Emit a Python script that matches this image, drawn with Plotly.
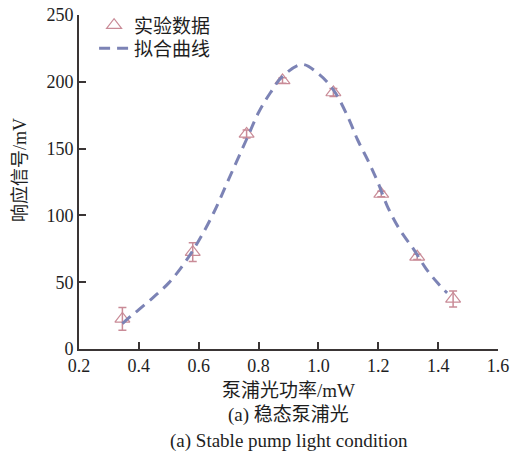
import plotly.graph_objects as go

# Experimental data
power_mw = [0.345, 0.58, 0.76, 0.88, 1.05, 1.21, 1.33, 1.45]
signal_mv = [22.5, 72.5, 161, 201, 192, 116, 69, 37.5]
signal_err = [8.5, 7, 3, 2, 3, 2, 2, 6]

# Fitted curve
fit_x = [0.345, 0.37, 0.40, 0.45, 0.50, 0.55, 0.60, 0.65, 0.70, 0.76, 0.80, 0.84,
         0.88, 0.945, 1.00, 1.05, 1.10, 1.13, 1.17, 1.20, 1.23, 1.27, 1.32,
         1.36, 1.40, 1.43]
fit_y = [19, 24, 29.5, 39, 49.5, 63.5, 81, 102, 127, 157, 177, 192,
         204, 213, 206, 194, 173, 157, 139, 124, 107, 90, 74,
         60, 49, 42]

x_ticks = [0.2, 0.4, 0.6, 0.8, 1.0, 1.2, 1.4, 1.6]
y_ticks = [0, 50, 100, 150, 200, 250]

FONT = "'Liberation Serif', 'Times New Roman', 'Noto Sans CJK SC', serif"
AXIS_COLOR = "#3a3535"
MARK_COLOR = "#c98b97"
LINE_COLOR = "#7c83b5"
TEXT_COLOR = "#1e1e1e"

fig = go.Figure()
fig.add_trace(go.Scatter(
    x=power_mw, y=signal_mv, mode="markers", name="实验数据", legend="legend",
    marker=dict(symbol="triangle-up-open", size=13, color=MARK_COLOR,
                line=dict(width=1.2, color=MARK_COLOR)),
    error_y=dict(type="data", array=signal_err, visible=True,
                 color=MARK_COLOR, thickness=1.5, width=4),
))
fig.add_trace(go.Scatter(
    x=fit_x, y=fit_y, mode="lines", name="拟合曲线", legend="legend2",
    line=dict(color=LINE_COLOR, width=3, dash="11px,7px", shape="spline", smoothing=1.0),
))

axis_common = dict(
    showline=True, linecolor=AXIS_COLOR, linewidth=1.6,
    ticks="inside", ticklen=7, tickwidth=1.6, tickcolor=AXIS_COLOR,
    showgrid=False, zeroline=False, mirror=False, automargin=False,
    tickfont=dict(family=FONT, size=18, color=TEXT_COLOR),
)

legend_common = dict(
    xanchor="left", yanchor="top",
    font=dict(family=FONT, size=19, color=TEXT_COLOR),
    bgcolor="rgba(0,0,0,0)", itemwidth=30,
)

fig.update_layout(
    width=510, height=460,
    margin=dict(l=79, r=12, t=15, b=111, autoexpand=False),
    paper_bgcolor="white", plot_bgcolor="white",
    showlegend=True,
    legend=dict(x=0.036, y=1.026, **legend_common),
    legend2=dict(x=0.036, y=0.957, **legend_common),
    xaxis=dict(range=[0.2, 1.6], tickvals=x_ticks,
               ticktext=[f"{v:.1f}" for v in x_ticks], **axis_common),
    yaxis=dict(range=[0, 250], tickvals=y_ticks, **axis_common),
    annotations=[
        dict(text="泵浦光功率/mW", xref="paper", yref="paper", x=0.5, y=-0.1257,
             showarrow=False, font=dict(family=FONT, size=19, color=TEXT_COLOR),
             xanchor="center", yanchor="middle"),
        dict(text="(a) 稳态泵浦光", xref="paper", yref="paper", x=0.5, y=-0.1976,
             showarrow=False, font=dict(family=FONT, size=19, color=TEXT_COLOR),
             xanchor="center", yanchor="middle"),
        dict(text="(a) Stable pump light condition", xref="paper", yref="paper",
             x=0.5, y=-0.275, showarrow=False,
             font=dict(family=FONT, size=19, color=TEXT_COLOR),
             xanchor="center", yanchor="middle"),
        dict(text="响应信号/mV", xref="paper", yref="paper", x=-0.141, y=0.536,
             textangle=-90, showarrow=False,
             font=dict(family=FONT, size=18, color=TEXT_COLOR),
             xanchor="center", yanchor="middle"),
    ],
)

fig.write_html("out.html")
